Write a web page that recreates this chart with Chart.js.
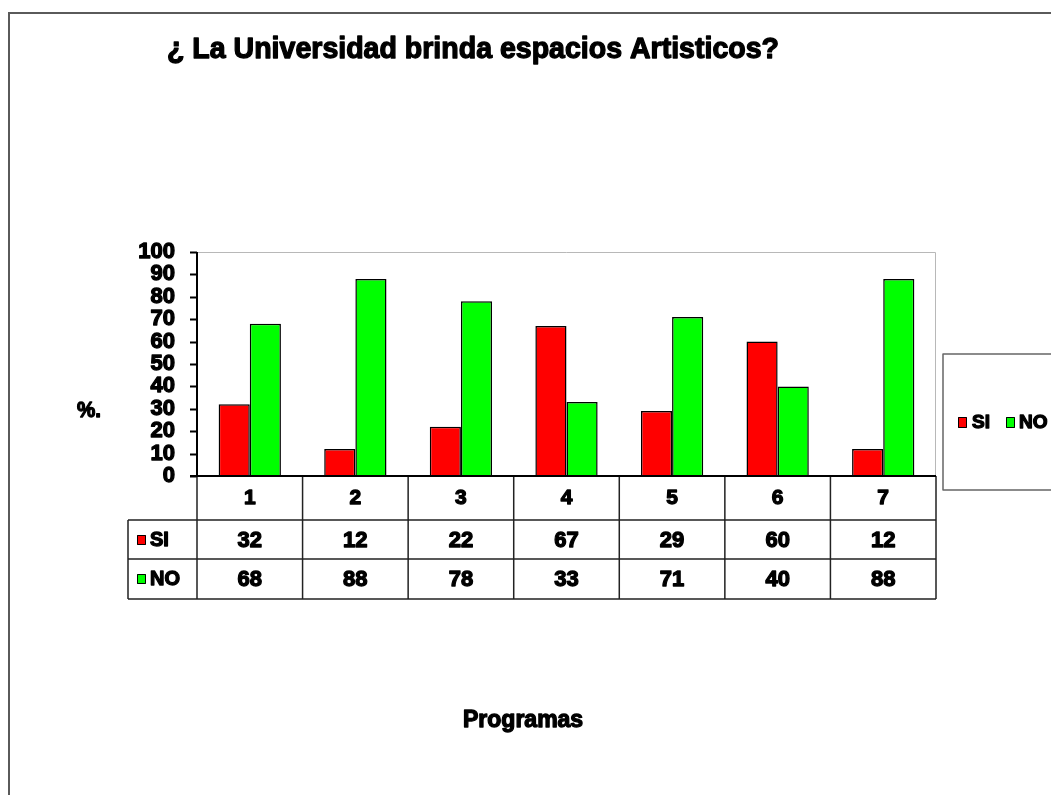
<!DOCTYPE html>
<html>
<head>
<meta charset="utf-8">
<script src="https://cdn.jsdelivr.net/npm/chart.js@4.4.0/dist/chart.umd.min.js"></script>
<style>
  html, body { margin: 0; padding: 0; background: #ffffff; }
  canvas { display: block; }
</style>
</head>
<body>
<canvas id="c" width="1051" height="795"></canvas>
<script>
const categories = ['1', '2', '3', '4', '5', '6', '7'];
const siValues = [32, 12, 22, 67, 29, 60, 12];
const noValues = [68, 88, 78, 33, 71, 40, 88];
const seriesNames = ['SI', 'NO'];
const yTicks = [0, 10, 20, 30, 40, 50, 60, 70, 80, 90, 100];
const titleText = '¿ La Universidad brinda espacios Artisticos?';
const yTitle = '%.';
const xTitle = 'Programas';

const RED = '#ff0000';
const GREEN = '#00ff00';
const FONT = '"Liberation Sans", Arial, sans-serif';

function heavyText(ctx, text, x, y, size, width, align) {
  ctx.font = 'bold ' + size + 'px ' + FONT;
  ctx.textAlign = align || 'left';
  ctx.textBaseline = 'middle';
  ctx.fillStyle = '#000';
  ctx.strokeStyle = '#000';
  ctx.lineWidth = 1.3;
  ctx.lineJoin = 'round';
  ctx.fillText(text, x, y, width);
  ctx.strokeText(text, x, y, width);
}

const overlay = {
  id: 'overlay',
  beforeDraw(chart) {
    const ctx = chart.ctx;
    ctx.save();
    ctx.fillStyle = '#fff';
    ctx.fillRect(0, 0, chart.width, chart.height);
    ctx.restore();
  },
  afterDraw(chart) {
    const ctx = chart.ctx;
    const ca = chart.chartArea;
    const xs = chart.scales.x;
    const ys = chart.scales.y;
    const n = categories.length;
    const cw = (ca.right - ca.left) / n;
    ctx.save();

    // outer frame
    ctx.strokeStyle = '#5a5a5a';
    ctx.lineWidth = 2;
    ctx.beginPath();
    ctx.moveTo(9, 800);
    ctx.lineTo(9, 13);
    ctx.lineTo(1060, 13);
    ctx.stroke();

    // plot frame (top & right)
    ctx.strokeStyle = '#b8b8b8';
    ctx.lineWidth = 1;
    ctx.beginPath();
    ctx.moveTo(ca.left, ca.top + 0.5);
    ctx.lineTo(ca.right - 0.5, ca.top + 0.5);
    ctx.lineTo(ca.right - 0.5, ca.bottom);
    ctx.stroke();

    // y axis line + ticks + labels
    ctx.strokeStyle = '#000';
    ctx.lineWidth = 2;
    ctx.beginPath();
    ctx.moveTo(ca.left, ca.top); ctx.lineTo(ca.left, ca.bottom);
    yTicks.forEach(v => {
      const y = Math.round(ys.getPixelForValue(v)) + 0.5;
      ctx.moveTo(ca.left - 7, y); ctx.lineTo(ca.left, y);
    });
    ctx.stroke();
    yTicks.forEach(v => {
      const y = ys.getPixelForValue(v);
      const s = String(v);
      heavyText(ctx, s, 175, y, 22, s.length * 12.5, 'right');
    });

    // title
    heavyText(ctx, titleText, 167, 50, 29, 612, 'left');
    // y title
    heavyText(ctx, yTitle, 77, 411, 22, 24, 'left');
    // x title
    heavyText(ctx, xTitle, 463, 721, 23, 129, 'left');

    // data table
    const rowTop = ca.bottom;
    const r1 = 520, r2 = 559, r3 = 599;
    const legL = 128;
    ctx.strokeStyle = '#222';
    ctx.lineWidth = 1.5;
    ctx.beginPath();
    ctx.moveTo(legL, r1); ctx.lineTo(ca.right, r1);
    ctx.moveTo(legL, r2); ctx.lineTo(ca.right, r2);
    ctx.moveTo(legL, r3); ctx.lineTo(ca.right, r3);
    ctx.moveTo(legL, r1); ctx.lineTo(legL, r3);
    for (let i = 0; i <= n; i++) {
      const x = i < n ? xs.getPixelForValue(i) - cw / 2 : xs.getPixelForValue(n - 1) + cw / 2;
      ctx.moveTo(x, rowTop); ctx.lineTo(x, r3);
    }
    ctx.stroke();
    // x axis line
    ctx.strokeStyle = '#000';
    ctx.lineWidth = 2;
    ctx.beginPath();
    ctx.moveTo(ca.left - 7, rowTop); ctx.lineTo(ca.right, rowTop);
    ctx.stroke();

    for (let i = 0; i < n; i++) {
      const x = xs.getPixelForValue(i);
      heavyText(ctx, categories[i], x, 498, 21, 14, 'center');
      heavyText(ctx, String(siValues[i]), x, 541, 22, 30, 'center');
      heavyText(ctx, String(noValues[i]), x, 580, 22, 30, 'center');
    }
    // legend keys in table
    const keys = [[RED, seriesNames[0], 540, 27], [GREEN, seriesNames[1], 579, 39]];
    keys.forEach(k => {
      ctx.fillStyle = k[0];
      ctx.fillRect(137, k[2] - 5, 9, 10);
      ctx.strokeStyle = '#000';
      ctx.lineWidth = 1;
      ctx.strokeRect(137.5, k[2] - 4.5, 8, 9);
      heavyText(ctx, k[1], 150, k[2], 20, k[3], 'left');
    });

    // legend box
    ctx.strokeStyle = '#666';
    ctx.lineWidth = 1.5;
    ctx.strokeRect(943, 354, 130, 136);
    const lk = [[RED, seriesNames[0], 958, 972, 21], [GREEN, seriesNames[1], 1006, 1019, 36]];
    lk.forEach(k => {
      ctx.fillStyle = k[0];
      ctx.fillRect(k[2], 417, 9, 11);
      ctx.strokeStyle = '#000';
      ctx.lineWidth = 1;
      ctx.strokeRect(k[2] + 0.5, 417.5, 8, 10);
      heavyText(ctx, k[1], k[3], 423, 19, k[4], 'left');
    });

    ctx.restore();
  }
};

new Chart(document.getElementById('c'), {
  type: 'bar',
  data: {
    labels: categories,
    datasets: [
      { label: seriesNames[0], data: siValues, backgroundColor: RED, borderColor: '#000', borderWidth: 1.5, categoryPercentage: 0.59, barPercentage: 1.0 },
      { label: seriesNames[1], data: noValues, backgroundColor: GREEN, borderColor: '#000', borderWidth: 1.5, categoryPercentage: 0.59, barPercentage: 1.0 }
    ]
  },
  options: {
    responsive: false,
    animation: false,
    devicePixelRatio: 1,
    layout: { padding: { left: 0, top: 252, right: 115, bottom: 319 } },
    plugins: { legend: { display: false }, title: { display: false }, tooltip: { enabled: false } },
    scales: {
      x: { display: false, grid: { display: false } },
      y: {
        display: false,
        min: 0, max: 100,
        afterFit(scale) { scale.width = 197; }
      }
    }
  },
  plugins: [overlay]
});
</script>
</body>
</html>
